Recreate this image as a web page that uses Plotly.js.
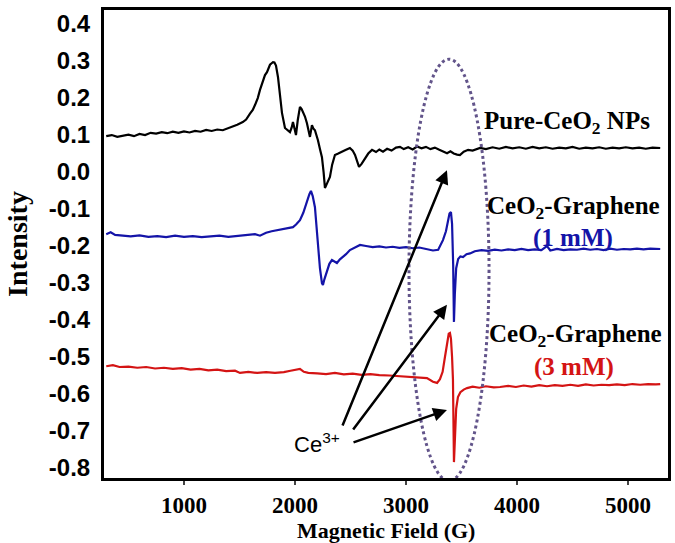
<!DOCTYPE html>
<html>
<head>
<meta charset="utf-8">
<script src="https://cdn.plot.ly/plotly-3.0.1.min.js"></script>
<style>html,body{margin:0;padding:0;background:#fff}#chart{width:675px;height:543px}</style>
</head>
<body>
<div id="chart"></div>
<script>
// ---- data ----
const pureX = [300,350,400,450,500,550,600,650,700,750,800,850,900,950,1000,1050,1100,1150,1200,1250,1300,1350,1400,1440,1480,1530,1560,1595,1620,1640,1665,1685,1710,1730,1748,1775,1790,1802,1815,1829,1847,1865,1883,1910,1935,1955,1970,1982,2000,2009,2025,2045,2060,2072,2090,2108,2120,2135,2153,2165,2180,2195,2207,2225,2243,2258,2270,2290,2315,2335,2360,2390,2423,2460,2495,2520,2541,2560,2577,2600,2631,2660,2694,2730,2760,2793,2830,2870,2910,2946,2980,3020,3060,3100,3140,3180,3220,3260,3300,3340,3370,3400,3430,3460,3486,3520,3560,3600,3667,3720,3780,3840,3900,3960,4020,4080,4140,4200,4260,4320,4380,4440,4500,4560,4620,4680,4740,4800,4860,4920,4980,5040,5100,5160,5220,5290];
const pureY = [0.097,0.100,0.095,0.099,0.101,0.097,0.103,0.100,0.106,0.104,0.108,0.105,0.109,0.106,0.110,0.107,0.111,0.109,0.114,0.111,0.115,0.113,0.118,0.124,0.128,0.135,0.142,0.158,0.168,0.181,0.200,0.222,0.245,0.262,0.270,0.290,0.294,0.297,0.296,0.288,0.257,0.205,0.160,0.119,0.112,0.108,0.120,0.135,0.112,0.100,0.140,0.176,0.170,0.162,0.150,0.132,0.118,0.095,0.127,0.118,0.113,0.100,0.086,0.062,0.040,0.000,-0.043,-0.030,-0.013,0.020,0.046,0.050,0.054,0.060,0.065,0.058,0.046,0.030,0.014,0.022,0.038,0.050,0.060,0.054,0.061,0.055,0.063,0.058,0.066,0.068,0.062,0.067,0.061,0.069,0.064,0.068,0.062,0.066,0.060,0.056,0.051,0.056,0.050,0.047,0.046,0.055,0.060,0.058,0.065,0.062,0.067,0.063,0.068,0.064,0.067,0.063,0.068,0.064,0.067,0.063,0.066,0.064,0.068,0.063,0.066,0.064,0.067,0.063,0.066,0.064,0.067,0.064,0.066,0.063,0.066,0.065];

const g1X = [300,340,380,450,520,600,680,760,840,920,1000,1080,1160,1240,1320,1400,1480,1560,1640,1685,1740,1790,1838,1900,1950,1982,2010,2045,2075,2108,2130,2144,2160,2180,2195,2207,2225,2243,2252,2265,2288,2310,2333,2355,2378,2405,2432,2460,2495,2540,2586,2640,2700,2760,2820,2880,2940,3000,3060,3120,3180,3243,3290,3333,3360,3378,3392,3405,3415,3425,3432,3440,3452,3470,3490,3514,3545,3577,3620,3680,3740,3800,3860,3920,3980,4040,4100,4160,4220,4270,4300,4360,4420,4480,4540,4600,4660,4720,4780,4840,4900,4960,5020,5080,5140,5200,5260,5290];
const g1Y = [-0.168,-0.163,-0.170,-0.172,-0.174,-0.171,-0.175,-0.173,-0.176,-0.172,-0.175,-0.173,-0.176,-0.174,-0.172,-0.175,-0.173,-0.171,-0.168,-0.172,-0.164,-0.160,-0.157,-0.155,-0.150,-0.149,-0.142,-0.130,-0.110,-0.076,-0.060,-0.051,-0.065,-0.095,-0.150,-0.211,-0.260,-0.300,-0.305,-0.290,-0.265,-0.248,-0.238,-0.242,-0.246,-0.236,-0.230,-0.222,-0.211,-0.204,-0.197,-0.200,-0.203,-0.201,-0.204,-0.202,-0.205,-0.203,-0.206,-0.204,-0.207,-0.212,-0.210,-0.184,-0.160,-0.130,-0.112,-0.108,-0.140,-0.250,-0.405,-0.330,-0.260,-0.235,-0.228,-0.230,-0.222,-0.220,-0.214,-0.211,-0.213,-0.210,-0.212,-0.209,-0.211,-0.208,-0.211,-0.209,-0.211,-0.200,-0.212,-0.208,-0.211,-0.209,-0.210,-0.207,-0.210,-0.208,-0.211,-0.207,-0.210,-0.208,-0.209,-0.207,-0.209,-0.207,-0.208,-0.208];

const g3X = [300,360,420,500,580,660,740,820,900,980,1060,1140,1220,1300,1380,1460,1505,1580,1660,1740,1820,1900,1960,2010,2045,2080,2120,2200,2280,2360,2440,2520,2600,2680,2760,2850,2940,3036,3120,3189,3243,3280,3306,3330,3351,3372,3385,3396,3405,3415,3423,3432,3440,3452,3468,3490,3520,3550,3600,3660,3720,3790,3847,3920,3990,4060,4130,4200,4270,4340,4410,4480,4550,4620,4690,4760,4830,4900,4970,5040,5110,5180,5250,5290];
const g3Y = [-0.525,-0.522,-0.527,-0.526,-0.529,-0.527,-0.531,-0.529,-0.532,-0.530,-0.534,-0.532,-0.536,-0.534,-0.538,-0.537,-0.543,-0.540,-0.543,-0.541,-0.543,-0.541,-0.537,-0.533,-0.532,-0.540,-0.543,-0.544,-0.546,-0.543,-0.547,-0.545,-0.548,-0.546,-0.549,-0.550,-0.552,-0.554,-0.556,-0.557,-0.567,-0.570,-0.560,-0.540,-0.500,-0.455,-0.437,-0.435,-0.450,-0.500,-0.560,-0.784,-0.700,-0.640,-0.608,-0.595,-0.588,-0.584,-0.580,-0.583,-0.579,-0.582,-0.581,-0.578,-0.581,-0.577,-0.580,-0.576,-0.579,-0.576,-0.578,-0.575,-0.578,-0.574,-0.577,-0.575,-0.576,-0.574,-0.576,-0.573,-0.575,-0.573,-0.574,-0.573];

const xTickVals = [1000,2000,3000,4000,5000];
const yTickVals = [0.4,0.3,0.2,0.1,0.0,-0.1,-0.2,-0.3,-0.4,-0.5,-0.6,-0.7,-0.8];
const yTickText = ["0.4","0.3","0.2","0.1","0.0","-0.1","-0.2","-0.3","-0.4","-0.5","-0.6","-0.7","-0.8"];
const xTitle = 'Magnetic Field (G)';

const serif = "Liberation Serif, Times New Roman, serif";
const sans = "Liberation Sans, Arial, sans-serif";

const traces = [
  {x: pureX, y: pureY, mode: 'lines', line: {color: '#000000', width: 2.2}, name: 'Pure'},
  {x: g1X, y: g1Y, mode: 'lines', line: {color: '#1414a8', width: 2.2}, name: '1 mM'},
  {x: g3X, y: g3Y, mode: 'lines', line: {color: '#d41414', width: 2.2}, name: '3 mM'}
];

function label(x, y, text, color) {
  return {x: x, y: y, xref: 'x', yref: 'y', text: text, showarrow: false,
    xanchor: 'center', yanchor: 'middle',
    font: {family: serif, size: 25, color: color, weight: 'bold'}};
}
function arrow(x, y, ax, ay) {
  return {x: x, y: y, ax: ax, ay: ay, xref: 'x', yref: 'y', axref: 'x', ayref: 'y',
    text: '', showarrow: true, arrowhead: 2, arrowsize: 1.1, arrowwidth: 2.5, arrowcolor: '#000'};
}

const layout = {
  width: 675, height: 543,
  margin: {l: 104, r: 7, t: 10, b: 65},
  paper_bgcolor: '#fff', plot_bgcolor: '#fff',
  showlegend: false,
  xaxis: {
    range: [280, 5360], tickvals: xTickVals, ticks: 'outside', ticklen: 4, tickwidth: 1.5, tickcolor: '#444',
    showline: true, mirror: true, linewidth: 3, linecolor: '#000', showgrid: false, zeroline: false,
    tickfont: {family: serif, size: 23, color: '#000', weight: 'bold'}
  },
  yaxis: {
    range: [-0.827, 0.438], tickvals: yTickVals, ticktext: yTickText, ticks: '',
    showline: true, mirror: true, linewidth: 3, linecolor: '#000', showgrid: false, zeroline: false,
    tickfont: {family: sans, size: 24, color: '#000', weight: 'bold'}, ticklabelstandoff: 6,
    title: {text: 'Intensity', font: {family: serif, size: 28, color: '#000', weight: 'bold'}, standoff: 14}
  },
  shapes: [{type: 'circle', xref: 'x', yref: 'y', x0: 3027, x1: 3748, y0: -0.835, y1: 0.305,
    line: {color: '#62548a', width: 3, dash: 'dot'}}],
  annotations: [
    {x: 0.5, y: -0.1132, xref: 'paper', yref: 'paper', text: xTitle, showarrow: false,
      xanchor: 'center', yanchor: 'middle', font: {family: serif, size: 22, color: '#000', weight: 'bold'}},
    label(4450, 0.135, 'Pure-CeO<sub>2</sub> NPs', '#000'),
    label(4509, -0.095, 'CeO<sub>2</sub>-Graphene', '#000'),
    label(4505, -0.178, '(1 mM)', '#1414a8'),
    label(4523, -0.441, 'CeO<sub>2</sub>-Graphene', '#000'),
    label(4514, -0.527, '(3 mM)', '#d41414'),
    {x: 2198, y: -0.732, xref: 'x', yref: 'y', text: 'Ce<sup>3+</sup>', showarrow: false,
      xanchor: 'center', yanchor: 'middle', font: {family: sans, size: 22, color: '#000'}},
    arrow(3369, 0.005, 2423, -0.689),
    arrow(3369, -0.359, 2514, -0.700),
    arrow(3369, -0.643, 2514, -0.732)
  ]
};

Plotly.newPlot('chart', traces, layout, {staticPlot: true, displayModeBar: false});
</script>
</body>
</html>
